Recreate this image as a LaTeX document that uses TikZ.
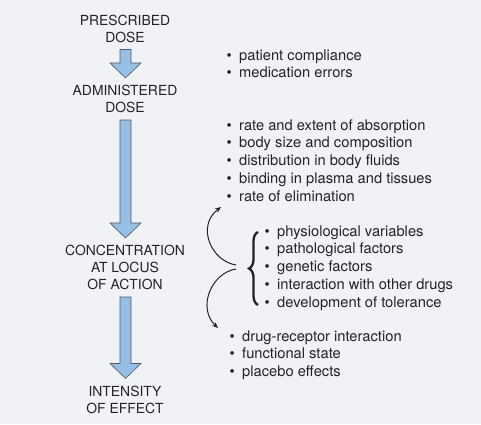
\documentclass[tikz,border=0pt]{standalone}
\usepackage{fontspec}
\setmainfont{TeX Gyre Heros}
\usetikzlibrary{calc,arrows.meta,decorations.pathreplacing}
\definecolor{bg}{RGB}{241,242,245}
\definecolor{ink}{RGB}{35,35,38}
\definecolor{arrowfill}{RGB}{150,191,229}
\definecolor{arrowline}{RGB}{80,90,100}
\newcommand\bul{\makebox[12.5pt][l]{\textbullet}}
\newcommand\blockarrow[2]{%
  \draw[barrow] let \p1=($(#1.south)+(0.5pt,-7pt)$), \p2=($(#2.north)+(0,7pt)$) in
    (\x1-5.5pt,\y1) -- (\x1-5.5pt,\y2+15pt) -- (\x1-15.5pt,\y2+15pt) -- (\x1,\y2)
    -- (\x1+15.5pt,\y2+15pt) -- (\x1+5.5pt,\y2+15pt) -- (\x1+5.5pt,\y1) -- cycle;}
\begin{document}
\begin{tikzpicture}[x=1pt,y=1pt,
  captext/.style={align=center, inner sep=0pt, text=ink, font=\fontsize{13.9}{17}\selectfont},
  item/.style={anchor=base west, inner sep=0pt, text=ink, font=\fontsize{14.7}{17}\selectfont},
  barrow/.style={fill=arrowfill, draw=arrowline, line width=0.6pt, line join=miter},
  curvy/.style={draw=ink, line width=1pt, -{Stealth[length=6pt,width=5pt]}},
  bracestyle/.style={draw=ink, line width=2.3pt, decorate, decoration={brace, amplitude=9pt}}]
\fill[bg] (0,0) rectangle (481,424);
\useasboundingbox (0,0) rectangle (481,424);

% main chain
\node[captext] (pd) at (125,395.5) {PRESCRIBED\\DOSE};
\node[captext] (ad) at (125,325) {ADMINISTERED\\DOSE};
\node[captext] (ca) at (125,156.5) {CONCENTRATION\\AT LOCUS\\OF ACTION};
\node[captext] (ie) at (125,24.5) {INTENSITY\\OF EFFECT};

\blockarrow{pd}{ad}
\blockarrow{ad}{ca}
\blockarrow{ca}{ie}

% lists
\foreach \t [count=\i] in {patient compliance, medication errors}
  \node[item] (a\i) at (226.5,{363-(\i-1)*17.0}) {\bul\t};
\foreach \t [count=\i] in {rate and extent of absorption, body size and composition,
  distribution in body fluids, binding in plasma and tissues, rate of elimination}
  \node[item] (b\i) at (226.5,{294-(\i-1)*17.75}) {\bul\t};
\foreach \t [count=\i] in {physiological variables, pathological factors, genetic factors,
  interaction with other drugs, development of tolerance}
  \node[item] (c\i) at (264.5,{188-(\i-1)*17.75}) {\bul\t};
\foreach \t [count=\i] in {drug-receptor interaction, functional state, placebo effects}
  \node[item] (d\i) at (229.5,{83-(\i-1)*17.75}) {\bul\t};

% brace
\coordinate (brb) at (258,119);
\coordinate (brt) at (258,192);
\draw[bracestyle] (brb) -- (brt);

% curved arrows
\coordinate (bu) at (236,159);
\coordinate (bd) at (236,155);
\coordinate (up) at (221,217);
\coordinate (dn) at (218,96);
\draw[curvy] (bu) .. controls (211,163) and (196,198) .. (up);
\draw[curvy] (bd) .. controls (211,151) and (197,116) .. (dn);
\end{tikzpicture}
\end{document}
